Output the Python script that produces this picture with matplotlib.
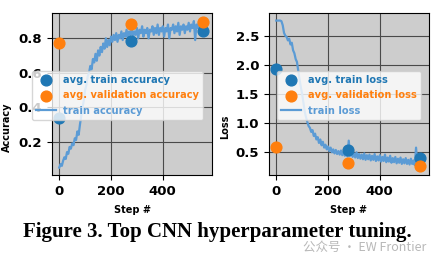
import matplotlib.pyplot as plt
import numpy as np

steps = np.arange(0, 565, 5)

train_acc = [0.05, 0.07, 0.06, 0.09, 0.11, 0.10, 0.14, 0.13, 0.17, 0.16,
             0.19, 0.18, 0.22, 0.21, 0.26, 0.24, 0.30, 0.35, 0.40, 0.44,
             0.50, 0.53, 0.58, 0.60, 0.64, 0.62, 0.68, 0.66, 0.71, 0.67,
             0.73, 0.70, 0.75, 0.72, 0.77, 0.74, 0.80, 0.75, 0.79, 0.76,
             0.81, 0.78, 0.82, 0.79, 0.83, 0.78, 0.82, 0.80, 0.84, 0.79,
             0.83, 0.81, 0.85, 0.80, 0.84, 0.82, 0.86, 0.81, 0.84, 0.82,
             0.86, 0.80, 0.85, 0.83, 0.87, 0.81, 0.85, 0.83, 0.86, 0.80,
             0.85, 0.84, 0.87, 0.82, 0.86, 0.83, 0.88, 0.82, 0.86, 0.84,
             0.87, 0.81, 0.86, 0.84, 0.88, 0.80, 0.86, 0.85, 0.88, 0.83,
             0.87, 0.84, 0.89, 0.82, 0.87, 0.85, 0.88, 0.83, 0.87, 0.85,
             0.89, 0.84, 0.88, 0.86, 0.90, 0.79, 0.88, 0.86, 0.90, 0.85,
             0.89, 0.87, 0.90]

train_loss = [2.76, 2.76, 2.76, 2.76, 2.75, 2.68, 2.55, 2.50, 2.48, 2.42,
              2.45, 2.35, 2.38, 2.25, 2.20, 2.10, 2.05, 1.90, 1.75, 1.62,
              1.50, 1.35, 1.20, 1.10, 1.02, 0.95, 0.92, 0.85, 0.88, 0.78,
              0.82, 0.72, 0.76, 0.66, 0.72, 0.62, 0.68, 0.58, 0.63, 0.55,
              0.60, 0.52, 0.58, 0.50, 0.55, 0.48, 0.54, 0.47, 0.52, 0.46,
              0.53, 0.45, 0.50, 0.44, 0.52, 0.43, 0.70, 0.44, 0.49, 0.42,
              0.48, 0.41, 0.50, 0.40, 0.47, 0.39, 0.46, 0.38, 0.48, 0.37,
              0.45, 0.38, 0.46, 0.36, 0.44, 0.37, 0.47, 0.35, 0.43, 0.36,
              0.45, 0.34, 0.42, 0.35, 0.46, 0.33, 0.41, 0.34, 0.44, 0.32,
              0.40, 0.33, 0.42, 0.31, 0.39, 0.32, 0.41, 0.30, 0.38, 0.31,
              0.40, 0.30, 0.37, 0.29, 0.39, 0.30, 0.36, 0.28, 0.58, 0.29,
              0.36, 0.28, 0.35]

avg_steps = [0, 277, 557]
avg_train_acc = [0.336, 0.784, 0.842]
avg_val_acc = [0.771, 0.883, 0.893]
avg_train_loss = [1.924, 0.545, 0.397]
avg_val_loss = [0.596, 0.31, 0.27]

blue = '#1f77b4'
orange = '#ff7f0e'
light = '#5b9bd5'

fig = plt.figure(figsize=(4.42, 2.54), dpi=100)
ax1 = fig.add_axes([52/442, 79/254, 160/442, 162/254])
ax2 = fig.add_axes([269/442, 79/254, 160/442, 162/254])

panels = [
    (ax1, train_acc, avg_train_acc, avg_val_acc, 'Accuracy',
     ['avg. train accuracy', 'avg. validation accuracy', 'train accuracy'],
     (0.007, 0.947), [0.2, 0.4, 0.6, 0.8], 27),
    (ax2, train_loss, avg_train_loss, avg_val_loss, 'Loss',
     ['avg. train loss', 'avg. validation loss', 'train loss'],
     (0.11, 2.89), [0.5, 1.0, 1.5, 2.0, 2.5], 272),
]

for ax, line, tr, va, ylab, labels, ylim, yt, legx in panels:
    ax.set_facecolor('#cdcdcd')
    ax.grid(True, color='#4a4a4a', linewidth=0.8)
    ax.set_axisbelow(True)
    s1 = ax.scatter(avg_steps, tr, s=60, color=blue, zorder=3, label=labels[0])
    s2 = ax.scatter(avg_steps, va, s=60, color=orange, zorder=3, label=labels[1])
    l1, = ax.plot(steps, line, color=light, linewidth=1.6, zorder=2, label=labels[2])
    ax.set_xlim(-28, 590)
    ax.set_ylim(*ylim)
    ax.set_xticks([0, 200, 400])
    ax.set_yticks(yt)
    ax.tick_params(labelsize=9.5)
    for t in ax.get_xticklabels() + ax.get_yticklabels():
        t.set_fontweight('bold')
    ax.set_xlabel('Step #', fontsize=7, fontweight='bold', labelpad=5)
    ax.set_ylabel(ylab, fontsize=7, fontweight='bold')
    leg = ax.legend(handles=[s1, s2, l1], loc='upper left',
                    bbox_to_anchor=(legx/442, 1 - 66/254),
                    bbox_transform=fig.transFigure,
                    prop={'size': 7.1, 'weight': 'bold'},
                    labelcolor=[blue, orange, light],
                    labelspacing=0.55, handletextpad=0.8,
                    borderpad=0.4)

ax1.yaxis.set_label_coords(12/442, 0.5, transform=fig.transFigure)
ax2.yaxis.set_label_coords(230/442, 0.5, transform=fig.transFigure)
for ax in (ax1, ax2):
    ax.yaxis.label.set_y(0.5)

fig.text(217/442, 1 - 232/254, 'Figure 3. Top CNN hyperparameter tuning.',
         ha='center', va='center', fontsize=15, fontweight='bold',
         family='Liberation Serif')
fig.text(303/442, 1 - 247/254, '公众号 · EW Frontier', ha='left', va='center',
         fontsize=9, color='#9a9a9a', alpha=0.7,
         family=['Noto Sans CJK SC', 'DejaVu Sans'])

fig.savefig('out.png', dpi=100)
